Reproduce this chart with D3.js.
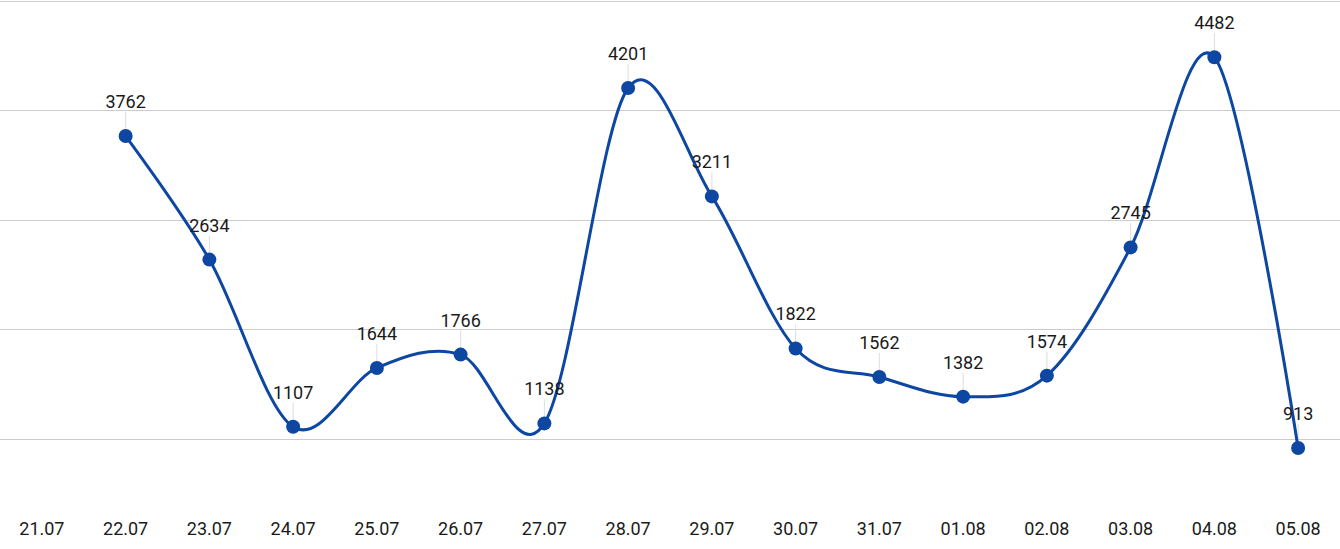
<!DOCTYPE html>
<html><head><meta charset="utf-8">
<script src="https://cdn.jsdelivr.net/npm/d3@7"></script>
<style>body{margin:0;background:#fff}svg{display:block}text{font-family:Roboto,sans-serif}</style>
</head><body><svg id="c" width="1340" height="549"></svg>
<script>
const categories = ["21.07","22.07","23.07","24.07","25.07","26.07","27.07","28.07","29.07","30.07","31.07","01.08","02.08","03.08","04.08","05.08"];
const values = [null,3762,2634,1107,1644,1766,1138,4201,3211,1822,1562,1382,1574,2745,4482,913];
const gridTicks = [1000,2000,3000,4000,5000];

const W = 1340, H = 549;
const svg = d3.select("#c");
const x = d3.scalePoint().domain(categories).range([0, W]).padding(0.5);
const y = d3.scaleLinear().domain([0, 5000]).range([548, 0.5]);

svg.append("g").selectAll("line").data(gridTicks).join("line")
  .attr("x1", 0).attr("x2", W)
  .attr("y1", d => Math.round(y(d)) + 0.5).attr("y2", d => Math.round(y(d)) + 0.5)
  .attr("stroke", "#cccccc").attr("stroke-width", 1);

const data = categories.map((c, i) => ({c, v: values[i]})).filter(d => d.v != null);

svg.append("g").selectAll("line").data(data).join("line")
  .attr("x1", d => x(d.c)).attr("x2", d => x(d.c))
  .attr("y1", d => y(d.v) - 24).attr("y2", d => y(d.v))
  .attr("stroke", "#dddddd").attr("stroke-width", 1);

const line = d3.line().x(d => x(d.c)).y(d => y(d.v)).curve(d3.curveCardinal.tension(0));
svg.append("path").datum(data).attr("d", line)
  .attr("fill", "none").attr("stroke", "#0d47a1").attr("stroke-width", 3);

svg.append("g").selectAll("circle").data(data).join("circle")
  .attr("cx", d => x(d.c)).attr("cy", d => y(d.v)).attr("r", 7)
  .attr("fill", "#0d47a1");

svg.append("g").selectAll("text").data(data).join("text")
  .attr("x", d => x(d.c)).attr("y", d => y(d.v) - 28)
  .attr("text-anchor", "middle").attr("font-size", 18).attr("fill", "#1a1a1a")
  .text(d => d.v);

svg.append("g").selectAll("text").data(categories).join("text")
  .attr("x", d => x(d)).attr("y", 535)
  .attr("text-anchor", "middle").attr("font-size", 18).attr("fill", "#1a1a1a")
  .text(d => d);
</script></body></html>
